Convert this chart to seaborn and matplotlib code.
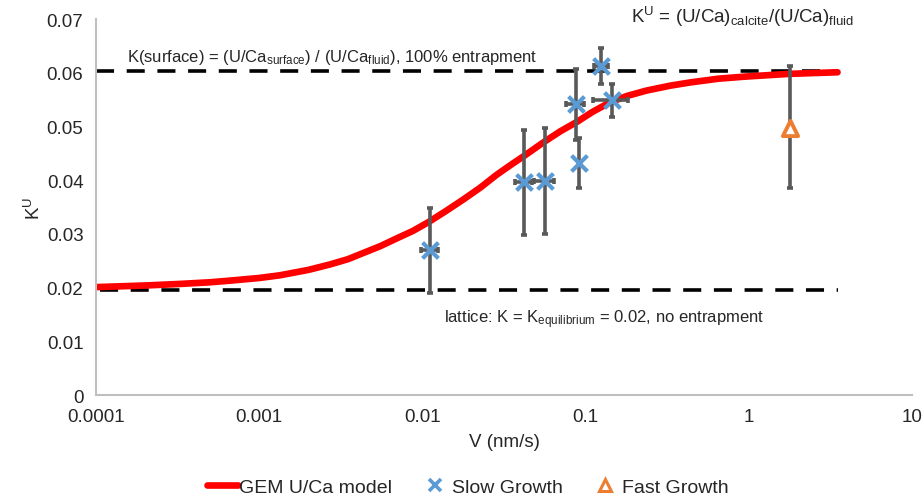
import numpy as np
import pandas as pd
import seaborn as sns
import matplotlib.pyplot as plt
from matplotlib.lines import Line2D
from matplotlib.ticker import FuncFormatter, NullLocator

# GEM U/Ca model curve
model_v = [0.0001, 0.0002, 0.00033, 0.0005, 0.00066, 0.001, 0.00134, 0.002, 0.0027,
           0.0035, 0.0043, 0.0055, 0.007, 0.0088, 0.0109, 0.014, 0.0178, 0.0226,
           0.0285, 0.035, 0.041, 0.0555, 0.07, 0.089, 0.11, 0.141, 0.18, 0.237,
           0.33, 0.437, 0.65, 0.96, 1.77, 3.5]
model_k = [0.0201, 0.0204, 0.0207, 0.0210, 0.0213, 0.0218, 0.0223, 0.0233, 0.0243,
           0.0253, 0.0264, 0.0277, 0.0292, 0.0306, 0.0322, 0.0343, 0.0364, 0.0386,
           0.0410, 0.0429, 0.0443, 0.0471, 0.0491, 0.0509, 0.0527, 0.0545, 0.0557, 0.0567,
           0.0576, 0.0582, 0.0589, 0.0593, 0.0598, 0.0601]

# slow growth experiments
slow_v = [0.0111, 0.042, 0.0562, 0.0869, 0.091, 0.125, 0.146]
slow_k = [0.0270, 0.0397, 0.0399, 0.0541, 0.0432, 0.0613, 0.0549]
slow_kerr_lo = [0.0080, 0.0099, 0.0099, 0.0067, 0.0047, 0.0034, 0.0031]
slow_kerr_hi = [0.0078, 0.0097, 0.0098, 0.0066, 0.0047, 0.0033, 0.0031]
slow_verr = [0.0013, 0.005, 0.008, 0.011, 0.0, 0.013, 0.035]

# fast growth experiment
fast_v = [1.80]
fast_k = [0.0497]
fast_kerr_lo = [0.0112]
fast_kerr_hi = [0.0115]

# limits
k_surface = 0.0603
k_lattice = 0.0195
limit_v = [0.0001, 3.5]

sns.set_style("white")
plt.rcParams['font.family'] = ['Liberation Sans', 'DejaVu Sans']
plt.rcParams['mathtext.fontset'] = 'custom'
plt.rcParams['mathtext.rm'] = 'Liberation Sans'
plt.rcParams['mathtext.it'] = 'Liberation Sans'

fig = plt.figure(figsize=(9.23, 5.02), dpi=100)
ax = fig.add_axes([0.104, 0.211, 0.884, 0.749])

# dashed limit lines
ax.plot(limit_v, [k_surface, k_surface], color='black', lw=2.6, ls=(0, (5, 3.5)), zorder=1)
ax.plot([0.000106, limit_v[1]], [k_lattice, k_lattice], color='black', lw=2.6, ls=(0, (5, 3.5)), zorder=1)

curve = pd.DataFrame({'V': model_v, 'K': model_k})
sns.lineplot(data=curve, x='V', y='K', color='#FF0000', lw=4.8, ax=ax, zorder=2,
             solid_capstyle='round', solid_joinstyle='round')

gray = '#595959'
ax.errorbar(slow_v, slow_k, yerr=[slow_kerr_lo, slow_kerr_hi], xerr=slow_verr,
            fmt='none', ecolor=gray, elinewidth=2.6, capsize=2.5, capthick=2.6, zorder=3)
ax.errorbar(fast_v, fast_k, yerr=[fast_kerr_lo, fast_kerr_hi],
            fmt='none', ecolor=gray, elinewidth=2.6, capsize=2.5, capthick=2.6, zorder=3)

slow = pd.DataFrame({'V': slow_v, 'K': slow_k})
fast = pd.DataFrame({'V': fast_v, 'K': fast_k})
sns.scatterplot(data=slow, x='V', y='K', marker='x', s=130, color='#5B9BD5',
                linewidth=3, ax=ax, zorder=4)
sns.scatterplot(data=fast, x='V', y='K', marker='^', s=120, facecolor='white',
                edgecolor='#ED7D31', linewidth=2.8, ax=ax, zorder=4)

ax.set_xscale('log')
ax.set_xlim(0.0001, 10)
ax.set_ylim(0, 0.07)
ax.set_xticks([0.0001, 0.001, 0.01, 0.1, 1, 10])
ax.xaxis.set_minor_locator(NullLocator())
ax.set_yticks(np.arange(0, 0.0701, 0.01))
fmt = FuncFormatter(lambda v, p: '%g' % round(v, 6))
ax.xaxis.set_major_formatter(fmt)
ax.yaxis.set_major_formatter(fmt)

for s in ['top', 'right']:
    ax.spines[s].set_visible(False)
for s in ['left', 'bottom']:
    ax.spines[s].set_color('#BFBFBF')
    ax.spines[s].set_linewidth(1.5)
ax.tick_params(axis='both', direction='out', length=5, width=1.2, color='#BFBFBF',
               labelsize=13.5, pad=4)

ax.set_xlabel('V (nm/s)', fontsize=13.5, labelpad=6)
ax.set_ylabel(r'K$^{\mathregular{U}}$', fontsize=13.5, labelpad=2)

ax.text(0.0028, 0.0631, r'K(surface) = (U/Ca$_{\mathregular{surface}}$) / (U/Ca$_{\mathregular{fluid}}$), 100% entrapment',
        ha='center', va='center', fontsize=12)
ax.text(0.13, 0.0142, r'lattice: K = K$_{\mathregular{equilibrium}}$ = 0.02, no entrapment',
        ha='center', va='center', fontsize=12)
ax.text(0.92, 0.0705, r'K$^{\mathregular{U}}$ = (U/Ca)$_{\mathregular{calcite}}$/(U/Ca)$_{\mathregular{fluid}}$',
        ha='center', va='center', fontsize=13.5)

handles = [
    Line2D([], [], color='#FF0000', lw=4.8, solid_capstyle='round'),
    Line2D([], [], color='#5B9BD5', marker='x', ls='none', ms=8, mew=2.6),
    Line2D([], [], color='#ED7D31', marker='^', ls='none', ms=8, mew=2.2, mfc='white'),
]
if ax.get_legend():
    ax.get_legend().remove()
fig.legend(handles, ['GEM U/Ca model', 'Slow Growth', 'Fast Growth'],
           loc='center', bbox_to_anchor=(0.507, 0.028), ncol=3, frameon=False,
           fontsize=14, handlelength=1.55, handletextpad=0.1, columnspacing=1.4)

fig.savefig('out.png', dpi=100)
